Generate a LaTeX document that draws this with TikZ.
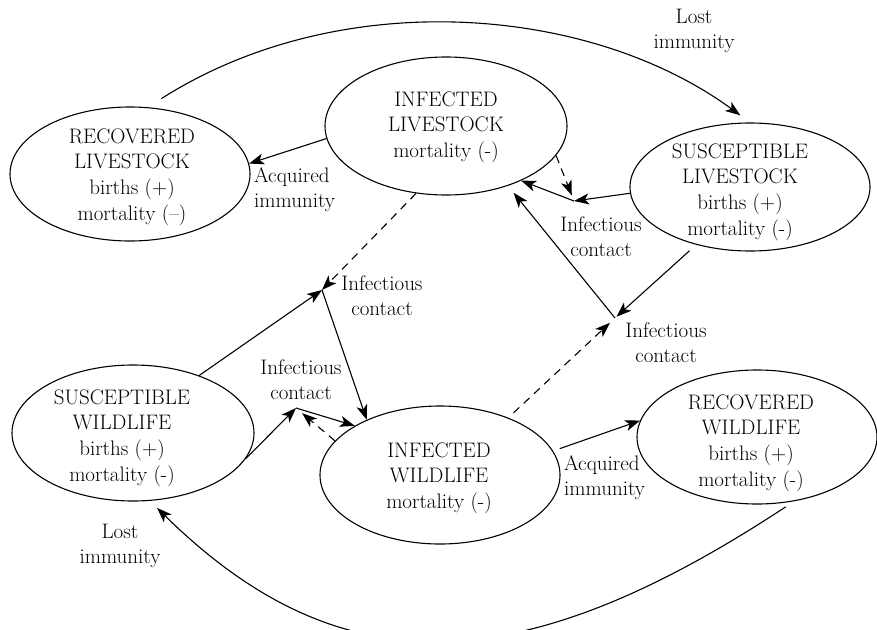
\documentclass[tikz,border=0pt]{standalone}
\usetikzlibrary{shapes.geometric,arrows.meta}

\begin{document}
\begin{tikzpicture}[x=1pt,y=-1pt,
  compart/.style={draw,ellipse,line width=1.1pt,inner sep=0pt,
                  minimum width=240pt,minimum height=136pt},
  ctext/.style={align=center,inner sep=0pt,font=\fontsize{21}{25.7}\selectfont},
  note/.style={inner sep=0pt,font=\fontsize{21}{25}\selectfont},
  flow/.style={line width=1.1pt,-{Stealth[length=15pt,width=11pt,inset=4pt]}},
  contact/.style={flow,dash pattern=on 8pt off 6pt}]

\useasboundingbox (0,0) rectangle (877,629);

% compartments
\node[compart,minimum width=240pt,minimum height=134pt] (rl) at (130,174) {};
\node[compart,minimum width=242pt,minimum height=138pt] (il) at (446,126) {};
\node[compart,minimum width=240pt,minimum height=128pt] (sl) at (750,187) {};
\node[compart,minimum width=242pt,minimum height=136pt] (sw) at (133,433) {};
\node[compart,minimum width=240pt,minimum height=138pt] (iw) at (440,475) {};
\node[compart,minimum width=240pt,minimum height=134pt] (rw) at (757,437) {};

\node[ctext] (rlt) at (132,177) {RECOVERED\\LIVESTOCK\\births (+)\\mortality (--)};
\node[ctext] (ilt) at (446,127) {INFECTED\\LIVESTOCK\\mortality (-)};
\node[ctext] (slt) at (740,192) {SUSCEPTIBLE\\LIVESTOCK\\births (+)\\mortality (-)};
\node[ctext] (swt) at (122,438) {SUSCEPTIBLE\\WILDLIFE\\births (+)\\mortality (-)};
\node[ctext] (iwt) at (439,478) {INFECTED\\WILDLIFE\\mortality (-)};
\node[ctext] (rwt) at (751,443) {RECOVERED\\WILDLIFE\\births (+)\\mortality (-)};

% contact junctions
\coordinate (j1) at (322,290);
\coordinate (j2) at (296,408);
\coordinate (j3) at (574,201);
\coordinate (j4) at (615,318);

% flow labels
\node[note,align=center] (lost1) at (694,31) {Lost\\immunity};
\node[note,align=left,anchor=west] (acq1) at (254,190) {Acquired\\immunity};
\node[note,align=center] (inf1) at (382,296) {Infectious\\contact};
\node[note,align=center] (inf2) at (301,380) {Infectious\\contact};
\node[note,align=center] (inf3) at (601,237) {Infectious\\contact};
\node[note,align=center] (inf4) at (666,343) {Infectious\\contact};
\node[note,align=left,anchor=west] (acq2) at (564,478) {Acquired\\immunity};
\node[note,align=center] (lost2) at (120,546) {Lost\\immunity};

% loss of immunity
\draw[flow,shorten <=16pt,shorten >=12pt] (rl.75) .. controls (340,-15) and (590,5) .. (sl.90);
\draw[flow,shorten <=10pt,shorten >=10pt] (rw.300) .. controls (520,682) and (340,688) .. (sw.284);

% acquired immunity
\draw[flow] (il.186) -- (rl.5);
\draw[flow,shorten <=7pt] (iw.12) -- (rw.172);

% contacts feeding infected wildlife
\draw[contact] (il.246) -- (j1);
\draw[flow] (sw.41) -- (j1);
\draw[flow] (j1) -- (iw.143);

\draw[flow] (sw.347) -- (j2);
\draw[flow] (j2) -- (iw.150);
\draw[contact,shorten >=8pt] (iw.162) -- (j2);

% contacts feeding infected livestock
\draw[flow] (sl.183) -- (j3);
\draw[contact,shorten >=6pt] (il.345) -- (j3);
\draw[flow] (j3) -- (il.324);

\draw[flow,shorten <=9pt,shorten >=2pt] (sl.227) -- (j4);
\draw[contact,shorten <=7pt,shorten >=7pt] (iw.40) -- (j4);
\draw[flow,shorten >=9pt] (j4) -- (il.316);

\end{tikzpicture}
\end{document}
